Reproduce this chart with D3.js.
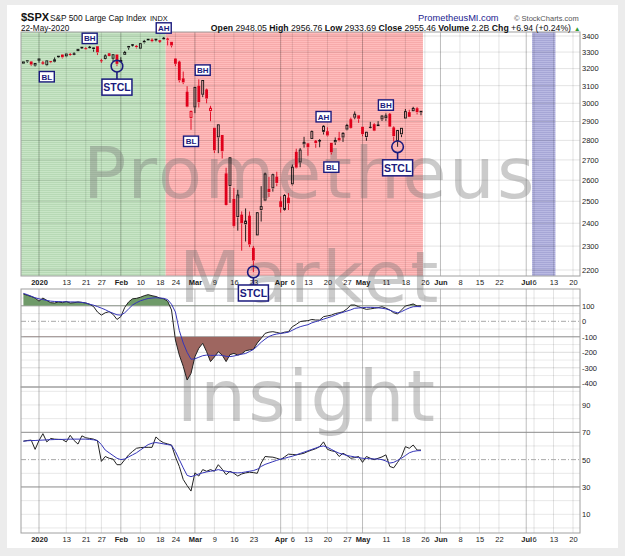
<!DOCTYPE html>
<html>
<head>
<meta charset="utf-8">
<script src="https://cdn.jsdelivr.net/npm/d3@7"></script>
<style>
body { margin: 0; background: #ececec; }
text { font-family: "Liberation Sans", Arial, sans-serif; }
</style>
</head>
<body>
<div class="container"></div>
<script>
// ---- data ----
var startDate = "2019-12-26";
var endDate = "2020-07-31";
var holidays = ["2020-01-01", "2020-01-20", "2020-02-17", "2020-04-10", "2020-05-25", "2020-07-03"];

var opens = [3227.20,3247.23,3240.09,3215.18,3244.67,3226.36,3217.55,3241.86,3238.59,3266.03,
  3281.81,3271.13,3285.35,3282.27,3302.97,3323.66,3321.03,3330.02,3315.77,3333.10,
  3247.16,3255.35,3289.46,3256.45,3282.33,3235.66,3280.61,3324.91,3344.92,3335.54,
  3318.28,3365.87,3370.50,3365.90,3378.08,3369.04,3380.39,3380.45,3360.50,3257.61,
  3238.94,3139.90,3062.54,2916.90,2974.28,3096.46,3045.75,3075.70,2954.20,2863.89,
  2813.48,2825.60,2630.86,2569.99,2508.59,2425.66,2436.50,2393.48,2431.94,2290.71,
  2344.44,2457.77,2501.29,2555.87,2558.98,2614.69,2498.08,2458.54,2514.92,2578.28,
  2738.65,2685.00,2776.99,2782.46,2805.10,2795.64,2799.34,2842.43,2845.62,2784.81,
  2787.89,2810.42,2812.64,2854.65,2909.96,2918.46,2930.91,2869.09,2815.01,2868.88,
  2883.14,2878.26,2908.83,2915.46,2939.50,2865.86,2794.54,2829.95,2913.86,2948.59,
  2953.63,2969.95,2948.05];
var highs = [3240.08,3247.93,3240.92,3231.72,3258.14,3246.15,3246.84,3244.91,3267.07,3275.58,
  3282.99,3288.13,3294.25,3298.66,3317.11,3329.88,3329.79,3337.77,3326.88,3333.18,
  3258.85,3285.78,3293.47,3285.91,3282.33,3268.44,3306.92,3337.58,3347.96,3341.42,
  3352.26,3375.63,3381.47,3385.09,3380.69,3375.01,3393.52,3389.15,3360.76,3259.81,
  3246.99,3182.51,3097.07,2959.72,3090.96,3136.72,3130.97,3083.04,2985.93,2863.89,
  2882.59,2825.60,2660.95,2711.33,2562.98,2553.93,2453.57,2466.97,2453.01,2300.73,
  2449.71,2571.42,2637.01,2615.91,2631.80,2641.39,2522.75,2533.22,2538.18,2676.85,
  2756.89,2760.75,2818.57,2782.46,2851.85,2801.88,2806.51,2879.22,2868.98,2785.54,
  2815.10,2844.90,2842.71,2887.72,2921.15,2954.86,2930.91,2869.09,2844.24,2898.23,
  2891.11,2901.92,2932.16,2944.25,2945.82,2874.14,2852.80,2865.01,2968.09,2964.21,
  2980.29,2978.50,2956.76];
var lows = [3227.20,3234.37,3216.57,3212.03,3235.53,3222.34,3214.64,3232.43,3236.67,3263.67,
  3260.86,3268.43,3277.19,3280.69,3302.82,3318.86,3316.61,3320.04,3301.87,3281.53,
  3234.50,3253.22,3271.89,3242.80,3214.68,3235.66,3280.61,3313.75,3334.39,3322.12,
  3317.77,3352.72,3369.72,3360.52,3366.15,3355.61,3378.83,3341.02,3328.45,3214.65,
  3118.77,3108.99,2977.39,2855.84,2945.19,2976.63,3034.38,2999.83,2901.54,2734.43,
  2734.00,2707.22,2478.86,2492.37,2380.94,2367.04,2280.52,2319.78,2295.56,2191.86,
  2344.44,2407.53,2500.72,2520.02,2545.28,2571.15,2447.49,2455.79,2459.96,2574.57,
  2657.67,2663.30,2762.36,2721.17,2805.10,2761.54,2764.32,2830.88,2820.43,2727.10,
  2775.95,2794.26,2791.76,2852.89,2860.71,2912.16,2892.47,2821.61,2797.85,2863.55,
  2847.65,2876.48,2902.88,2903.44,2869.59,2793.15,2766.64,2816.78,2913.86,2922.35,
  2953.63,2938.57,2933.69];
var closes = [3239.91,3240.02,3221.29,3230.78,3257.85,3234.85,3246.28,3237.18,3253.05,3274.70,
  3265.35,3288.13,3283.15,3289.29,3316.81,3329.62,3320.79,3321.75,3325.54,3295.47,
  3243.63,3276.24,3273.40,3283.66,3225.52,3248.92,3297.59,3334.69,3345.78,3327.71,
  3352.09,3357.75,3379.45,3373.94,3380.16,3370.29,3386.15,3373.23,3337.75,3225.89,
  3128.21,3116.39,2978.76,2954.22,3090.23,3003.37,3130.12,3023.94,2972.37,2746.56,
  2882.23,2741.38,2480.64,2711.02,2386.13,2529.19,2398.10,2409.39,2304.92,2237.40,
  2447.33,2475.56,2630.07,2541.47,2626.65,2584.59,2470.50,2526.90,2488.65,2663.68,
  2659.41,2749.98,2789.82,2761.63,2846.06,2783.36,2799.55,2874.56,2823.16,2736.56,
  2799.31,2797.80,2836.74,2878.48,2863.39,2939.51,2912.43,2830.71,2842.74,2868.44,
  2848.42,2881.19,2929.80,2930.32,2870.12,2820.00,2852.50,2863.70,2953.91,2922.94,
  2971.61,2948.51,2955.46];

var cciValues = [176,168,160,150,130,150,135,120,118,125,
  120,128,118,120,125,122,118,110,95,60,
  40,55,62,45,12,30,90,125,145,148,
  155,165,172,165,160,150,145,130,73,-121,
  -218,-290,-379,-336,-228,-174,-142,-196,-260,-230,
  -196,-218,-260,-215,-207,-218,-210,-190,-185,-181,
  -140,-110,-78,-70,-67,-72,-78,-70,-67,-35,
  -20,-2,2,4,12,8,8,30,35,40,
  50,55,62,80,105,105,94,85,77,80,
  84,88,94,85,73,55,47,73,99,105,
  112,99,100];
var cciSignal = [180,172,162,152,145,140,135,130,128,127,
  126,126,125,125,124,122,118,110,104,95,
  85,75,62,52,42,40,55,80,105,120,
  132,140,147,150,152,150,148,140,110,60,
  -60,-140,-200,-245,-242,-232,-222,-218,-220,-220,
  -218,-220,-226,-228,-224,-218,-212,-208,-195,-182,
  -160,-135,-115,-98,-88,-82,-78,-75,-70,-58,
  -45,-35,-28,-22,-10,-2,5,14,22,30,
  40,50,58,66,74,84,86,88,90,90,
  89,87,84,80,72,62,55,62,75,86,
  94,95,94];
var rsiValues = [63.5,64,64.3,57.5,64,69,63,65.5,65,64.8,
  64.7,63,67.8,64,61.4,67.4,66,65.5,65,63.8,
  48.7,52.3,51,50.4,46.3,46.3,50,53.5,56,58.3,
  58.8,59,59,59,66.6,64,62.3,61.5,60.7,52,
  45,35.5,31,27,40.3,38,42.7,41.5,42.7,41.5,
  46.3,43,39,41.5,40,38,39.5,40.3,40.8,40.5,
  40,47.5,52.3,52,51.8,51,50,52,54,53.8,
  53.5,54,54.7,56,57,58,59.5,63,57.5,56.5,
  55.9,52.3,54.7,53,51,51.5,52.3,48,52.3,51,
  50,51,52,53.5,45,44,48,52.3,59.5,58.3,
  60.7,57,57];
var rsiSignal = [63.5,63.8,64,64,64.2,64.3,64.5,64.6,64.7,64.8,
  64.8,64.9,65,65,65,65,65,64.8,64.5,64,
  61,57,55,53,51,50,50.5,52,53.5,55,
  57,59,61,62,62.5,62,61.5,61,60.5,56,
  50,44,38.5,37.5,38.5,39.5,40.3,41,41.5,42,
  42.7,42,41.5,41,40.5,40.3,40.5,41,41.5,42,
  43,45,46.5,47.5,48.5,49.5,50.4,51,51.8,52.5,
  53.5,54.5,55.5,56.5,57.5,58.5,59.5,60,59,57.5,
  56,54.7,54,53,52.5,52,51.5,51,50.8,50.6,
  50.5,50.4,50,49,47.5,48,49.5,51,53,55,
  56,56.5,56.6];

var tickDates = ["2020-01-02","2020-01-13","2020-01-21","2020-01-27","2020-02-03","2020-02-10","2020-02-18","2020-02-24",
  "2020-03-02","2020-03-09","2020-03-16","2020-03-23","2020-04-01","2020-04-06","2020-04-13","2020-04-20","2020-04-27",
  "2020-05-01","2020-05-11","2020-05-18","2020-05-26","2020-06-01","2020-06-08","2020-06-15","2020-06-22",
  "2020-07-01","2020-07-06","2020-07-13","2020-07-20"];
var tickTexts = ["2020","13","21","27","Feb","10","18","24","Mar","9","16","23","Apr","6","13","20","27",
  "May","11","18","26","Jun","8","15","22","Jul","6","13","20"];

var priceTicks = [3400,3300,3200,3100,3000,2900,2800,2700,2600,2500,2400,2300,2200];
var cciTicks = [100,0,-100,-200,-300,-400];
var rsiTicks = [90,70,50,30,10];

var zoneStarts = ["2019-12-26","2020-02-20","2020-07-06"];
var zoneEnds = ["2020-02-19","2020-05-22","2020-07-13"];
var zoneFills = ["url(#stripe-green)","url(#stripe-red)","url(#stripe-blue)"];

var noteTexts = ["BL","BH","STCL","AH","BL","BH","STCL","AH","BL","BH","STCL"];
var noteDates = ["2020-01-06","2020-01-22","2020-01-31","2020-02-19","2020-02-28","2020-03-04",
  "2020-03-23","2020-04-17","2020-04-21","2020-05-11","2020-05-14"];
var notePrices = [3152,3385,3214.68,3451,2795,3191,2191.86,2926,2664,2990,2766.64];

var quoteLabels = ["Open ","High ","Low ","Close ","Volume ","Chg "];
var quoteValues = ["2948.05 ","2956.76 ","2933.69 ","2955.46 ","2.2B ","+6.94 (+0.24%)"];

var watermarkWords = ["Prometheus", "Market", "Insight"];

// ---- layout ----
var width = 625, height = 556;
var plotL = 21, plotR = 580;
var priceTop = 32, priceBottom = 276;
var cciTop = 289, cciBottom = 387;
var rsiTop = 387, rsiBottom = 533;
var navy = "#1b1b7e";
var redCandle = "#e0001b";

function buildCalendar(start, end)
{
    var days = [];
    var d = new Date(start + "T00:00:00Z");
    var last = new Date(end + "T00:00:00Z");
    while (d <= last)
    {
        var wd = d.getUTCDay();
        var iso = d.toISOString().slice(0, 10);
        if (wd !== 0 && wd !== 6 && holidays.indexOf(iso) < 0) days.push(iso);
        d.setUTCDate(d.getUTCDate() + 1);
    }
    return days;
}
var calendar = buildCalendar(startDate, endDate);
function dayIndex(iso) { return calendar.indexOf(iso); }

var x = d3.scaleLinear()
    .domain([dayIndex("2020-01-02"), dayIndex("2020-07-20")])
    .range([39, 573]);
var yP = d3.scaleLog().domain([2200, 3400]).range([270, 36]);
var yC = d3.scaleLinear().domain([-400, 100]).range([383.3, 305.8]);
var yR = d3.scaleLinear().domain([10, 70]).range([514.3, 432.3]);

const svg = d3.select(".container")
    .append("svg")
    .attr("width", width)
    .attr("height", height);

svg.append("rect").attr("width", width).attr("height", height).attr("fill", "#ececec");
svg.append("rect").attr("x", 7).attr("y", 5).attr("width", 611).attr("height", 543).attr("fill", "#fff");

var defs = svg.append("defs");
function stripes(id, base, line)
{
    var p = defs.append("pattern").attr("id", id)
        .attr("patternUnits", "userSpaceOnUse")
        .attr("width", 4).attr("height", 2);
    p.append("rect").attr("width", 4).attr("height", 2).attr("fill", base);
    p.append("rect").attr("width", 4).attr("height", 0.8).attr("fill", line);
}
stripes("stripe-green", "#c8e5c6", "#b3d7b1");
stripes("stripe-red", "#ffbcbc", "#f6a6a6");
stripes("stripe-blue", "#b9b9e2", "#a2a2d4");

defs.append("clipPath").attr("id", "clip-up").append("rect")
    .attr("x", plotL).attr("y", cciTop).attr("width", plotR - plotL).attr("height", yC(100) - cciTop);
defs.append("clipPath").attr("id", "clip-down").append("rect")
    .attr("x", plotL).attr("y", yC(-100)).attr("width", plotR - plotL).attr("height", cciBottom - yC(-100));

// ---- price panel background ----
var bg = svg.append("g");
zoneStarts.forEach(function(s, k)
{
    var i0 = dayIndex(s), i1 = dayIndex(zoneEnds[k]);
    var left = i0 === 0 ? plotL : x(i0 - 0.5);
    bg.append("rect")
        .attr("x", left).attr("y", priceTop)
        .attr("width", x(i1 + 0.5) - left).attr("height", priceBottom - priceTop)
        .attr("fill", zoneFills[k]);
});

bg.selectAll("line.hgrid").data(priceTicks).enter().append("line")
    .attr("x1", plotL).attr("x2", plotR)
    .attr("y1", function(d) { return yP(d); }).attr("y2", function(d) { return yP(d); })
    .attr("stroke", "rgba(0,0,0,0.11)");

// cci grid
var cciFaint = d3.range(-350, 200, 50).filter(function(v) { return [100, 0, -100].indexOf(v) < 0; });
bg.selectAll("line.cgrid").data(cciFaint).enter().append("line")
    .attr("x1", plotL).attr("x2", plotR)
    .attr("y1", function(d) { return yC(d); }).attr("y2", function(d) { return yC(d); })
    .attr("stroke", function(d) { return d % 100 === 0 ? "#dcdcdc" : "#ececec"; });

// rsi grid
var rsiFaint = d3.range(0, 101, 10).filter(function(v) { return [70, 50, 30].indexOf(v) < 0 && yR(v) > rsiTop && yR(v) < rsiBottom; });
bg.selectAll("line.rgrid").data(rsiFaint).enter().append("line")
    .attr("x1", plotL).attr("x2", plotR)
    .attr("y1", function(d) { return yR(d); }).attr("y2", function(d) { return yR(d); })
    .attr("stroke", "#e8e8e8");

// vertical grid in all panels
var tickIdx = tickDates.map(dayIndex);
[[priceTop, priceBottom], [cciTop, cciBottom], [rsiTop, rsiBottom]].forEach(function(p)
{
    bg.selectAll(null).data(tickIdx).enter().append("line")
        .attr("x1", function(d) { return x(d); }).attr("x2", function(d) { return x(d); })
        .attr("y1", p[0]).attr("y2", p[1])
        .attr("stroke", function(d, i) { return tickTexts[i].length > 2 ? "rgba(0,0,0,0.26)" : "rgba(0,0,0,0.11)"; });
});

// level lines
[[100, "#8a8a8a", null], [-100, "#8a8a8a", null], [0, "#a8a8a8", "5,2,1,2"]].forEach(function(l)
{
    bg.append("line").attr("x1", plotL).attr("x2", plotR)
        .attr("y1", yC(l[0])).attr("y2", yC(l[0]))
        .attr("stroke", l[1]).attr("stroke-dasharray", l[2]);
});
[[70, "#8a8a8a", null], [30, "#8a8a8a", null], [50, "#a8a8a8", "5,2,1,2"]].forEach(function(l)
{
    bg.append("line").attr("x1", plotL).attr("x2", plotR)
        .attr("y1", yR(l[0])).attr("y2", yR(l[0]))
        .attr("stroke", l[1]).attr("stroke-dasharray", l[2]);
});

// panel frames
[[priceTop, priceBottom], [cciTop, cciBottom], [rsiTop, rsiBottom]].forEach(function(p)
{
    bg.append("rect").attr("x", plotL).attr("y", p[0])
        .attr("width", plotR - plotL).attr("height", p[1] - p[0])
        .attr("fill", "none").attr("stroke", "#a0a0a0");
});

// ---- watermark ----
var wm = svg.append("g")
    .attr("fill", "#777").attr("fill-opacity", 0.38)
    .attr("text-anchor", "middle");
[[310, 198], [310, 302], [307, 421]].forEach(function(p, k)
{
    wm.append("text").attr("x", p[0]).attr("y", p[1])
        .style("font-family", "'DejaVu Sans', sans-serif")
        .style("font-size", "72px")
        .style("letter-spacing", "2.4px")
        .text(watermarkWords[k]);
});

// ---- candles ----
var candles = d3.range(closes.length).map(function(i)
{
    return { i: i, o: opens[i], h: highs[i], l: lows[i], c: closes[i], prev: i ? closes[i - 1] : opens[i] };
});
var bodyW = 2.8;
var cg = svg.append("g");
candles.forEach(function(d)
{
    var cx = x(d.i);
    var col = d.c >= d.prev ? "#111" : redCandle;
    var top = yP(Math.max(d.o, d.c)), bot = yP(Math.min(d.o, d.c));
    var hollow = d.c > d.o;
    cg.append("line").attr("x1", cx).attr("x2", cx).attr("y1", yP(d.h)).attr("y2", top)
        .attr("stroke", col).attr("stroke-width", 0.9);
    cg.append("line").attr("x1", cx).attr("x2", cx).attr("y1", bot).attr("y2", yP(d.l))
        .attr("stroke", col).attr("stroke-width", 0.9);
    var hgt = Math.max(1, bot - top);
    if (hollow)
    {
        cg.append("rect").attr("x", cx - bodyW / 2 + 0.45).attr("y", top)
            .attr("width", bodyW - 0.9).attr("height", Math.max(0.6, hgt - 0.9))
            .attr("fill", "none").attr("stroke", col).attr("stroke-width", 0.9);
    }
    else
    {
        cg.append("rect").attr("x", cx - bodyW / 2).attr("y", top - 0.45)
            .attr("width", bodyW).attr("height", hgt)
            .attr("fill", col);
    }
});

// ---- CCI ----
svg.append("path").datum(cciValues)
    .attr("clip-path", "url(#clip-up)")
    .attr("fill", "#6f9a69")
    .attr("d", d3.area().x(function(d, i) { return x(i); }).y0(yC(100)).y1(function(d) { return yC(d); }));
svg.append("path").datum(cciValues)
    .attr("clip-path", "url(#clip-down)")
    .attr("fill", "#9e6660")
    .attr("d", d3.area().x(function(d, i) { return x(i); }).y0(yC(-100)).y1(function(d) { return yC(d); }));

function seriesLine(scale)
{
    return d3.line().x(function(d, i) { return x(i); }).y(function(d) { return scale(d); });
}
svg.append("path").datum(cciValues).attr("fill", "none").attr("stroke", "#222").attr("stroke-width", 1)
    .attr("d", seriesLine(yC));
svg.append("path").datum(cciSignal).attr("fill", "none").attr("stroke", "#3535b8").attr("stroke-width", 1)
    .attr("d", seriesLine(yC));

// ---- RSI ----
svg.append("path").datum(rsiValues).attr("fill", "none").attr("stroke", "#222").attr("stroke-width", 1)
    .attr("d", seriesLine(yR));
svg.append("path").datum(rsiSignal).attr("fill", "none").attr("stroke", "#3535b8").attr("stroke-width", 1)
    .attr("d", seriesLine(yR));

// ---- axes ----
function styleAxis(g)
{
    g.select(".domain").remove();
    g.selectAll("text").attr("fill", "#222").style("font-size", "7.5px")
        .style("font-family", "'Liberation Sans', Arial, sans-serif");
}
var xAxis = d3.axisBottom(x).tickValues(tickIdx)
    .tickFormat(function(d, i) { return tickTexts[i]; })
    .tickSize(0).tickPadding(4);
[priceBottom, rsiBottom].forEach(function(yy)
{
    var g = svg.append("g").attr("transform", "translate(0," + yy + ")").call(xAxis).call(styleAxis);
    g.selectAll("text").style("font-weight", function(d, i) { return tickTexts[i].length > 2 ? "bold" : "normal"; });
});

svg.append("g").attr("transform", "translate(" + plotR + ",0)")
    .call(d3.axisRight(yP).tickValues(priceTicks).tickFormat(d3.format("d")).tickSize(0).tickPadding(2))
    .call(styleAxis);
svg.append("g").attr("transform", "translate(" + plotR + ",0)")
    .call(d3.axisRight(yC).tickValues(cciTicks).tickFormat(function(d) { return String(d); }).tickSize(0).tickPadding(2))
    .call(styleAxis);
svg.append("g").attr("transform", "translate(" + plotR + ",0)")
    .call(d3.axisRight(yR).tickValues(rsiTicks).tickFormat(function(d) { return String(d); }).tickSize(0).tickPadding(2))
    .call(styleAxis);

// ---- annotations ----
var ng = svg.append("g");
noteTexts.forEach(function(t, k)
{
    var nx = x(dayIndex(noteDates[k])), ny = yP(notePrices[k]);
    if (t === "STCL")
    {
        ng.append("circle").attr("cx", nx).attr("cy", ny).attr("r", 5.8)
            .attr("fill", "none").attr("stroke", navy).attr("stroke-width", 1.6);
        ng.append("line").attr("x1", nx).attr("x2", nx).attr("y1", ny + 5.8).attr("y2", ny + 13)
            .attr("stroke", navy).attr("stroke-width", 1.6);
        ng.append("rect").attr("x", nx - 15).attr("y", ny + 13).attr("width", 30).attr("height", 16)
            .attr("fill", "#fff").attr("stroke", navy).attr("stroke-width", 1.5);
        ng.append("text").attr("x", nx).attr("y", ny + 21).attr("dy", "0.36em")
            .attr("text-anchor", "middle").attr("fill", navy)
            .style("font-size", "10.5px").style("font-weight", "bold").text(t);
    }
    else
    {
        ng.append("rect").attr("x", nx - 7.5).attr("y", ny - 5.2).attr("width", 15).attr("height", 10.4)
            .attr("fill", "#fff").attr("stroke", navy).attr("stroke-width", 1.4);
        ng.append("text").attr("x", nx).attr("y", ny).attr("dy", "0.36em")
            .attr("text-anchor", "middle").attr("fill", navy)
            .style("font-size", "8px").style("font-weight", "bold").text(t);
    }
});

// ---- header ----
svg.append("text").attr("x", 21).attr("y", 20.5).attr("fill", "#111")
    .style("font-size", "11px").style("font-weight", "bold").text("$SPX");
svg.append("text").attr("x", 50).attr("y", 20.5).attr("fill", "#111")
    .style("font-size", "8.3px").text("S&P 500 Large Cap Index");
svg.append("text").attr("x", 150).attr("y", 20.5).attr("fill", "#111")
    .style("font-size", "7.4px").text("INDX");
svg.append("text").attr("x", 418).attr("y", 21).attr("fill", "#23238f")
    .style("font-size", "9.3px").text("PrometheusMI.com");
svg.append("text").attr("x", 514).attr("y", 20.5).attr("fill", "#555")
    .style("font-size", "7.5px").text("\u00a9 StockCharts.com");
svg.append("text").attr("x", 21).attr("y", 31).attr("fill", "#111")
    .style("font-size", "8.2px").text("22-May-2020");

var quote = svg.append("text").attr("x", 571).attr("y", 31).attr("text-anchor", "end")
    .attr("fill", "#111").style("font-size", "8.7px");
quoteLabels.forEach(function(l, k)
{
    quote.append("tspan").style("font-weight", "bold").text(l);
    quote.append("tspan").style("font-weight", "normal").text(quoteValues[k]);
});
svg.append("text").attr("x", 574).attr("y", 30.5).attr("fill", "#2e9a2e")
    .style("font-size", "6.5px").text("\u25b2");
</script>
</body>
</html>
